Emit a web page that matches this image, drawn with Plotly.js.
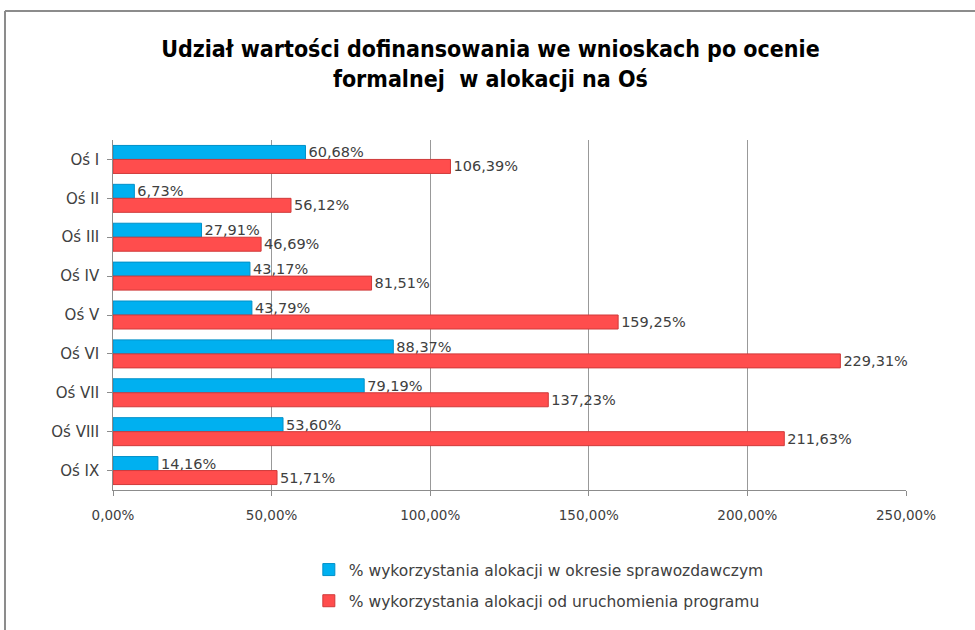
<!DOCTYPE html>
<html>
<head>
<meta charset="utf-8">
<script src="https://cdn.plot.ly/plotly-3.0.1.min.js"></script>
<style>
html,body{margin:0;padding:0;background:#fff;}
#chart{width:975px;height:630px;}
</style>
</head>
<body>
<div id="chart"></div>
<script>
const categories = ["Oś I","Oś II","Oś III","Oś IV","Oś V","Oś VI","Oś VII","Oś VIII","Oś IX"];
const okresSprawozdawczy = [60.68, 6.73, 27.91, 43.17, 43.79, 88.37, 79.19, 53.60, 14.16];
const odUruchomienia = [106.39, 56.12, 46.69, 81.51, 159.25, 229.31, 137.23, 211.63, 51.71];
const seriesNames = ["% wykorzystania alokacji w okresie sprawozdawczym","% wykorzystania alokacji od uruchomienia programu"];
const tickVals = [0, 50, 100, 150, 200, 250];
const tickText = tickVals.map(v => v.toFixed(2).replace('.', ',') + '%');

const fontFam = "'DejaVu Sans','Open Sans',sans-serif";
const titleFam = "'DejaVu Sans Condensed','Open Sans',sans-serif";

const traces = [
  {type:'bar', orientation:'h', y:categories, x:okresSprawozdawczy, name:seriesNames[0], legendgroup:'a',
   marker:{color:'#00b0f0', line:{color:'#0090c8', width:1}},
   texttemplate:'%{x:.2f}%', textposition:'outside', cliponaxis:false, constraintext:'none',
   textfont:{family:fontFam, size:14.5, color:'#404040'}},
  {type:'bar', orientation:'h', y:categories, x:odUruchomienia, name:seriesNames[1], legendgroup:'b',
   marker:{color:'#ff4d4d', line:{color:'#d03a3a', width:1}},
   texttemplate:'%{x:.2f}%', textposition:'outside', cliponaxis:false, constraintext:'none',
   textfont:{family:fontFam, size:14.5, color:'#404040'}}
];

const frameLine = {color:'#8c8c8c', width:2};
const layout = {
  width:975, height:630,
  separators:', ',
  paper_bgcolor:'#fff', plot_bgcolor:'#fff',
  margin:{l:113, r:69, t:140, b:137},
  title:{text:'Udział wartości dofinansowania we wnioskach po ocenie<br>formalnej  w alokacji na Oś',
         font:{family:titleFam, size:23, color:'#000', weight:'bold'},
         x:0.503, xref:'container', xanchor:'center', yref:'container', y:0.91, yanchor:'top'},
  barmode:'group', bargap:0.28, bargroupgap:0,
  xaxis:{range:[0,250], tickmode:'array', tickvals:tickVals, ticktext:tickText,
         showgrid:true, gridcolor:'#999999', gridwidth:1, zeroline:false,
         showline:true, linecolor:'#8c8c8c', ticks:'outside', tickcolor:'#8c8c8c', ticklen:5,
         ticklabelstandoff:8,
         tickfont:{family:fontFam, size:13.5, color:'#404040'}},
  yaxis:{autorange:'reversed', showline:true, linecolor:'#8c8c8c', ticks:'outside', tickcolor:'#8c8c8c', ticklen:5,
         showgrid:false, tickfont:{family:fontFam, size:15, color:'#404040'}, ticksuffix:' '},
  legend:{orientation:'v', x:0.537, xanchor:'center', y:-0.18, yanchor:'top', traceorder:'grouped',
          font:{family:fontFam, size:15.5, color:'#404040'}, itemwidth:30, tracegroupgap:8},
  shapes:[
    {type:'line', xref:'paper', yref:'paper', x0:-0.1362, x1:1.2, y0:1.3683, y1:1.3683, line:frameLine, layer:'above'},
    {type:'line', xref:'paper', yref:'paper', x0:-0.1362, x1:-0.1362, y0:-0.5, y1:1.3683, line:frameLine, layer:'above'}
  ],
  showlegend:true
};

Plotly.newPlot('chart', traces, layout, {displayModeBar:false, staticPlot:true});
</script>
</body>
</html>
